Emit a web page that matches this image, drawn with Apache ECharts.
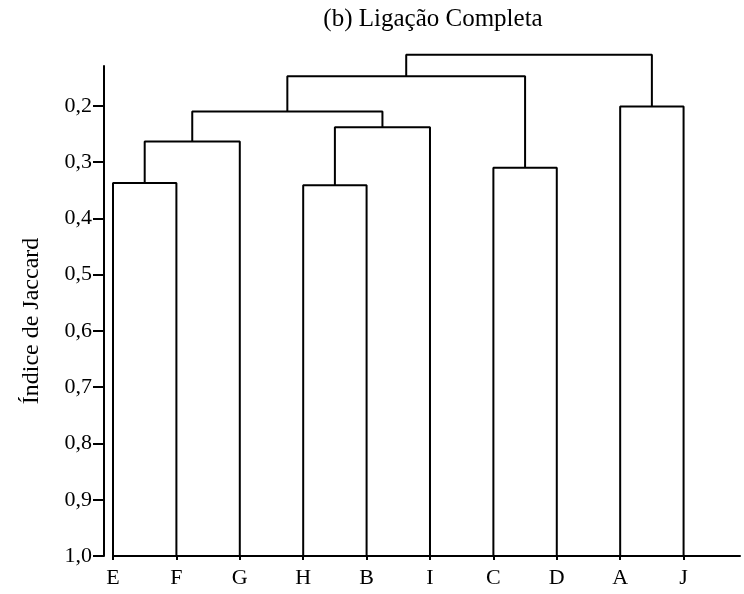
<!DOCTYPE html>
<html>
<head>
<meta charset="utf-8">
<script src="https://cdn.jsdelivr.net/npm/echarts@6/dist/echarts.min.js"></script>
<style>
  html, body { margin: 0; padding: 0; background: #ffffff; }
  #chart { width: 744px; height: 594px; }
</style>
</head>
<body>
<div id="chart"></div>
<script>
// folhas na ordem do dendrograma
const leaves = ['E', 'F', 'G', 'H', 'B', 'I', 'C', 'D', 'A', 'J']
// fusões: nós 0-9 são folhas, 10+ são grupos criados na ordem abaixo
const mergeLeft = [0, 3, 6, 8, 10, 11, 14, 16, 17]
const mergeRight = [1, 4, 7, 9, 2, 5, 15, 12, 13]
const mergeHeight = [0.337, 0.341, 0.31, 0.201, 0.263, 0.238, 0.21, 0.147, 0.109]
const yTicks = [0.2, 0.3, 0.4, 0.5, 0.6, 0.7, 0.8, 0.9, 1.0]
const leafBase = 1.0

const font = 'Liberation Serif'

// posição x e altura de cada nó
const nodeX = leaves.map((l, i) => i)
const nodeH = leaves.map(() => leafBase)
const series = []
mergeLeft.forEach((a, k) => {
  const b = mergeRight[k]
  const h = mergeHeight[k]
  series.push({
    type: 'line',
    data: [
      [nodeX[a], nodeH[a]],
      [nodeX[a], h],
      [nodeX[b], h],
      [nodeX[b], nodeH[b]],
    ],
    symbol: 'none',
    clip: false,
    silent: true,
    lineStyle: { color: '#000000', width: 2 },
  })
  nodeX.push((nodeX[a] + nodeX[b]) / 2)
  nodeH.push(h)
})

const chart = echarts.init(document.getElementById('chart'))
chart.setOption({
  animation: false,
  title: {
    text: '(b) Ligação Completa',
    left: 428,
    top: 2,
    textAlign: 'center',
    textStyle: {
      fontFamily: font,
      fontSize: 25,
      fontWeight: 'normal',
      color: '#000000',
    },
  },
  grid: {
    left: 113,
    right: 4,
    top: 66,
    bottom: 38,
  },
  xAxis: {
    type: 'value',
    min: 0,
    max: 9.89,
    splitLine: { show: false },
    axisLine: {
      show: true,
      onZero: false,
      lineStyle: { color: '#000000', width: 2 },
    },
    axisTick: {
      show: true,
      length: 4,
      lineStyle: { color: '#000000', width: 2 },
      customValues: leaves.map((l, i) => i),
    },
    axisLabel: {
      customValues: leaves.map((l, i) => i),
      formatter: (v) => leaves[Math.round(v)],
      fontFamily: font,
      fontSize: 22,
      color: '#000000',
      margin: 11,
    },
  },
  yAxis: {
    type: 'value',
    inverse: true,
    min: 0.129,
    max: 1.0,
    offset: 9,
    name: 'Índice de Jaccard',
    nameLocation: 'middle',
    nameGap: 60,
    nameTextStyle: {
      fontFamily: font,
      fontSize: 24,
      color: '#000000',
      padding: [0, 20, 0, 0],
    },
    splitLine: { show: false },
    axisLine: {
      show: true,
      onZero: false,
      lineStyle: { color: '#000000', width: 2 },
    },
    axisTick: {
      show: true,
      length: 11,
      lineStyle: { color: '#000000', width: 2 },
      customValues: yTicks,
    },
    axisLabel: {
      customValues: yTicks,
      formatter: (v) => v.toFixed(1).replace('.', ','),
      fontFamily: font,
      fontSize: 22,
      color: '#000000',
      margin: 12,
    },
  },
  series: series,
})
</script>
</body>
</html>
